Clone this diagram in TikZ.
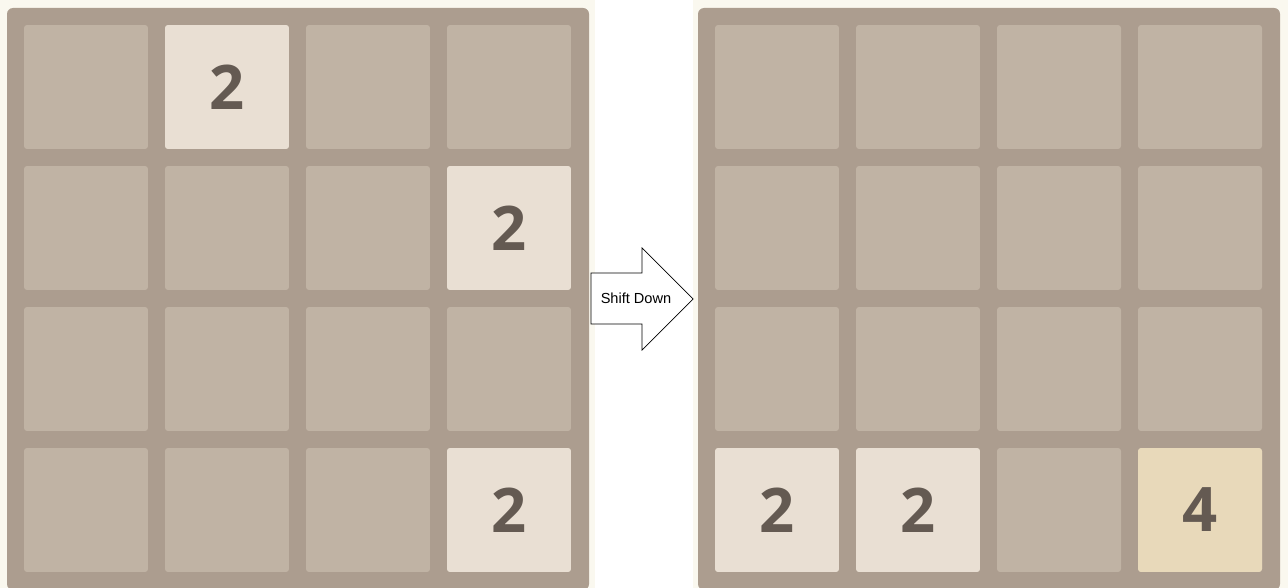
\documentclass[tikz,border=0pt]{standalone}
\usepackage{fontspec}
\setmainfont{Open Sans}
\newfontfamily\labelfont{Liberation Sans}
\usetikzlibrary{positioning}

\definecolor{pagecream}{HTML}{FAF8EF}
\definecolor{boardbg}{HTML}{AC9D8F}
\definecolor{emptytile}{HTML}{C0B3A4}
\definecolor{tiletwo}{HTML}{E9DFD3}
\definecolor{tilefour}{HTML}{E8D9BA}
\definecolor{tiletext}{HTML}{645A52}

\tikzset{
  tile/.style={rectangle, rounded corners=0.06cm, minimum size=2.48cm, inner sep=0pt,
    fill=emptytile, text=tiletext, font=\fontsize{35}{35}\selectfont\bfseries},
  two/.style={tile, fill=tiletwo},
  four/.style={tile, fill=tilefour},
}

\begin{document}
\begin{tikzpicture}[x=0.02cm, y=-0.02cm]
    \useasboundingbox (0,0) rectangle (1288,588);
    \fill[white] (0,0) rectangle (1288,588);

    % 背景
    \fill[pagecream] (0,0) rectangle (595,588);
    \fill[pagecream] (693,0) rectangle (1288,588);

    % 盤面
    \fill[boardbg, rounded corners=0.12cm] (7,8) rectangle (589,590);
    \fill[boardbg, rounded corners=0.12cm] (698,8) rectangle (1280,590);

    % 空きマス
    \foreach \r in {0,...,3} {
        \foreach \c in {0,...,3} {
            \node[tile] (L\r\c) at ({86+141*\c},{87+141*\r}) {};
            \node[tile] (R\r\c) at ({777+141*\c},{87+141*\r}) {};
        }
    }

    % 移動前の数字
    \node[two] (beforeA) at (L01) {\raisebox{-1.5pt}{2}};
    \node[two] (beforeB) at (L13) {\raisebox{-1.5pt}{2}};
    \node[two] (beforeC) at (L33) {\raisebox{-1.5pt}{2}};

    % 移動後の数字
    \node[two] (afterA) at (R30) {\raisebox{-1.5pt}{2}};
    \node[two] (afterB) at (R31) {\raisebox{-1.5pt}{2}};
    \node[four] (afterC) at (R33) {\raisebox{-1.5pt}{4}};

    % 矢印
    \draw[black, thin, fill=white, line join=miter]
        (591,273) -- (642,273) -- (642,248) -- (693,299)
        -- (642,350) -- (642,324) -- (591,324) -- cycle;
    \node[font=\labelfont\fontsize{8.3}{10}\selectfont] (shift) at (636,298) {Shift Down};
\end{tikzpicture}
\end{document}
